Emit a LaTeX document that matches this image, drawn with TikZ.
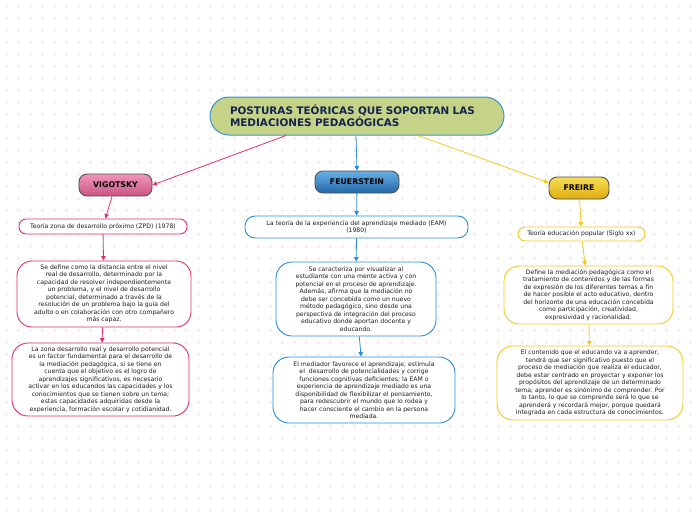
\documentclass[tikz,border=0pt]{standalone}
\usepackage{fontspec}
\setmainfont{DejaVu Sans}
\usetikzlibrary{arrows.meta,calc}
\definecolor{vpink}{RGB}{226,48,108}
\definecolor{fblue}{RGB}{40,140,222}
\definecolor{fyel}{RGB}{246,200,30}
\definecolor{titfill}{RGB}{196,211,136}
\definecolor{titborder}{RGB}{58,146,210}
\definecolor{titext}{RGB}{22,34,80}
\definecolor{plusgrey}{RGB}{234,234,234}
\definecolor{txt}{RGB}{30,30,30}
\tikzset{
  bodytext/.style={font=\fontsize{6.15}{7.5}\selectfont, text=txt, align=center, inner sep=0pt},
  mainnode/.style={draw={rgb,255:red,80;green,80;blue,80}, line width=0.9pt, rounded corners=8pt,
    font=\fontsize{7.8}{8}\selectfont\bfseries, text=black, inner sep=0pt},
  pinkbox/.style={bodytext, draw=vpink, fill=white, line width=0.9pt},
  bluebox/.style={bodytext, draw=fblue, fill=white, line width=0.9pt},
  yelbox/.style={bodytext, draw=fyel, fill=white, line width=0.9pt},
  tip/.style={-{Triangle[length=4.5pt,width=4.5pt]}, line width=0.8pt},
}
\begin{document}
\begin{tikzpicture}[x=1pt,y=-1pt]
\useasboundingbox (0,0) rectangle (696,520);
\fill[white] (0,0) rectangle (696,520);
% background plus pattern
\foreach \x in {6,18,...,696} {
  \foreach \y in {6,18,...,520} {
    \draw[plusgrey, line width=0.5pt] (\x-1.5,\y) -- (\x+1.5,\y) (\x,\y-1.5) -- (\x,\y+1.5);
  }
}
% title
\node[draw=titborder, line width=1pt, fill=titfill, rounded corners=19pt,
  minimum width=294pt, minimum height=38pt, text width=254pt, align=left,
  font=\fontsize{10.4}{12}\selectfont\bfseries, text=titext, inner sep=0pt]
  (title) at (357,116) {POSTURAS TEÓRICAS QUE SOPORTAN LAS\\MEDIACIONES PEDAGÓGICAS};
% main nodes
\node[mainnode, top color={rgb,255:red,240;green,150;blue,186}, bottom color={rgb,255:red,202;green,84;blue,132},
  minimum width=73pt, minimum height=22pt] (vig) at (115.5,185) {VIGOTSKY};
\node[mainnode, top color={rgb,255:red,104;green,176;blue,230}, bottom color={rgb,255:red,36;green,104;blue,168},
  minimum width=84pt, minimum height=22pt] (feu) at (357,182) {FEUERSTEIN};
\node[mainnode, top color={rgb,255:red,248;green,222;blue,84}, bottom color={rgb,255:red,222;green,172;blue,16},
  minimum width=60pt, minimum height=22pt] (fre) at (579,188) {FREIRE};
% Vigotsky branch
\node[pinkbox, rounded corners=7pt, minimum width=168pt, minimum height=15pt] (zpd) at (103,226.5)
  {Teoría zona de desarrollo próximo (ZPD) (1978)};
\node[pinkbox, rounded corners=15pt, minimum width=174pt, minimum height=66pt] (sedef) at (104,294)
  {Se define como la distancia entre el nivel\\real de desarrollo, determinado por la\\capacidad de resolver independientemente\\un problema, y el nivel de desarrollo\\potencial, determinado a través de la\\resolución de un problema bajo la guía del\\adulto o en colaboración con otro compañero\\más capaz.};
\node[pinkbox, rounded corners=16pt, minimum width=177pt, minimum height=73pt] (zona) at (100.5,379.5)
  {La zona desarrollo real y desarrollo potencial\\es un factor fundamental para el desarrollo de\\la mediación pedagógica, si se tiene en\\cuenta que el objetivo es el logro de\\aprendizajes significativos, es necesario\\activar en los educandos las capacidades y los\\conocimientos que se tienen sobre un tema;\\estas capacidades adquiridas desde la\\experiencia, formación escolar y cotidianidad.};
% Feuerstein branch
\node[bluebox, rounded corners=10pt, minimum width=223pt, minimum height=22pt] (eam) at (356.5,227)
  {La teoría de la experiencia del aprendizaje mediado (EAM)\\(1980)};
\node[bluebox, rounded corners=16pt, minimum width=160pt, minimum height=74pt] (carac) at (356,299)
  {Se caracteriza por visualizar al\\estudiante con una mente activa y con\\potencial en el proceso de aprendizaje.\\Además, afirma que la mediación no\\debe ser concebida como un nuevo\\método pedagógico, sino desde una\\perspectiva de integración del proceso\\educativo donde aportan docente y\\educando.};
\node[bluebox, rounded corners=16pt, minimum width=182pt, minimum height=66pt] (medi) at (364,390)
  {El mediador favorece el aprendizaje, estimula\\el\ \ desarrollo de potencialidades y corrige\\funciones cognitivas deficientes; la EAM o\\experiencia de aprendizaje mediado es una\\disponibilidad de flexibilizar el pensamiento,\\para redescubrir el mundo que lo rodea y\\hacer consciente el cambio en la persona\\mediada.};
% Freire branch
\node[yelbox, rounded corners=7pt, minimum width=127pt, minimum height=14pt] (pop) at (581.5,234)
  {Teoría educación popular (Siglo xx)};
\node[yelbox, rounded corners=15pt, minimum width=169pt, minimum height=58pt] (defi) at (588.5,295)
  {Define la mediación pedagógica como el\\tratamiento de contenidos y de las formas\\de expresión de los diferentes temas a fin\\de hacer posible el acto educativo, dentro\\del horizonte de una educación concebida\\como participación, creatividad,\\expresividad y racionalidad.};
\node[yelbox, rounded corners=16pt, minimum width=186pt, minimum height=74pt] (cont) at (590,383)
  {El contenido que el educando va a aprender,\\tendrá que ser significativo puesto que el\\proceso de mediación que realiza el educador,\\debe estar centrado en proyectar y exponer los\\propósitos del aprendizaje de un determinado\\tema; aprender es sinónimo de comprender. Por\\lo tanto, lo que se comprende será lo que se\\aprenderá y recordará mejor, porque quedará\\integrada en cada estructura de conocimientos.};
% connectors
\draw[tip, vpink] ($(title.south)+(-71,0)$) -- (vig.east);
\draw[tip, fblue] ($(title.south)+(-1,0)$) -- (feu.north);
\draw[tip, fyel] ($(title.south)+(61,0)$) -- (fre.170);
\draw[tip, vpink] (vig) -- (zpd);
\draw[tip, vpink] (zpd) -- (sedef);
\draw[tip, vpink] (sedef) -- (zona);
\draw[tip, fblue] (feu) -- (eam);
\draw[tip, fblue] (eam) -- (carac);
\draw[tip, fblue] (carac) -- (medi);
\draw[tip, fyel] (fre) -- (pop);
\draw[tip, fyel] (pop) -- (defi);
\draw[tip, fyel] (defi) -- (cont);
\end{tikzpicture}
\end{document}
